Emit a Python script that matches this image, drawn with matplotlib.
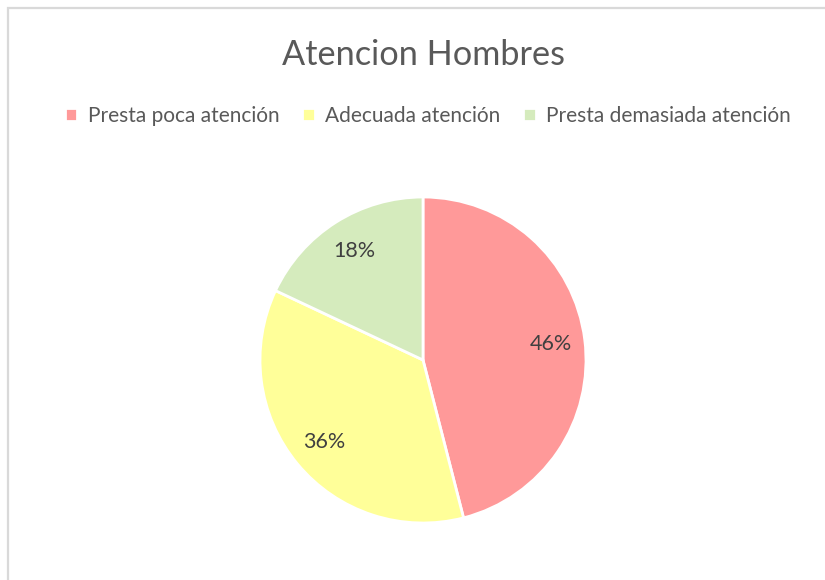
import matplotlib

matplotlib.use("Agg")
import matplotlib.pyplot as plt
from matplotlib.patches import Rectangle

TEXT = "#595959"
BORDER = "#D9D9D9"

categories = ["Presta poca atención", "Adecuada atención", "Presta demasiada atención"]
values = [46, 36, 18]
colors = ["#FF9999", "#FFFF99", "#D5EBBD"]

plt.rcParams["font.family"] = ["Lato", "DejaVu Sans"]

W, H = 825, 580
fig = plt.figure(figsize=(W / 100, H / 100), dpi=100)
fig.patch.set_facecolor("white")

# chart-area frame: only left and top show inside the crop
fig.patches.append(
    Rectangle((7.5 / W, -0.1), 1.2, 1.1 - 7.5 / H, transform=fig.transFigure,
              fill=False, edgecolor=BORDER, linewidth=1.6)
)

cx, cy, r = 423, 360, 163
ax = fig.add_axes([(cx - r) / W, (H - cy - r) / H, 2 * r / W, 2 * r / H])
wedges, texts, autotexts = ax.pie(
    values,
    colors=colors,
    startangle=90,
    counterclock=False,
    autopct="%1.0f%%",
    pctdistance=0.79,
    wedgeprops={"edgecolor": "white", "linewidth": 2},
    textprops={"fontsize": 15.5, "color": "#404040"},
)
ax.set_xlim(-1, 1)
ax.set_ylim(-1, 1)
ax.set_aspect("equal")

fig.text(cx / W, 1 - 55 / H, "Atencion Hombres", ha="center", va="center",
         fontsize=24.7, color=TEXT)

fig.legend(
    wedges, categories, loc="center", bbox_to_anchor=(428 / W, 1 - 116 / H),
    ncol=3, frameon=False, fontsize=15, handlelength=0.6, handleheight=0.6,
    handletextpad=0.5, columnspacing=1.1, labelcolor=TEXT,
)

fig.savefig("out.png", dpi=100, facecolor="white")
